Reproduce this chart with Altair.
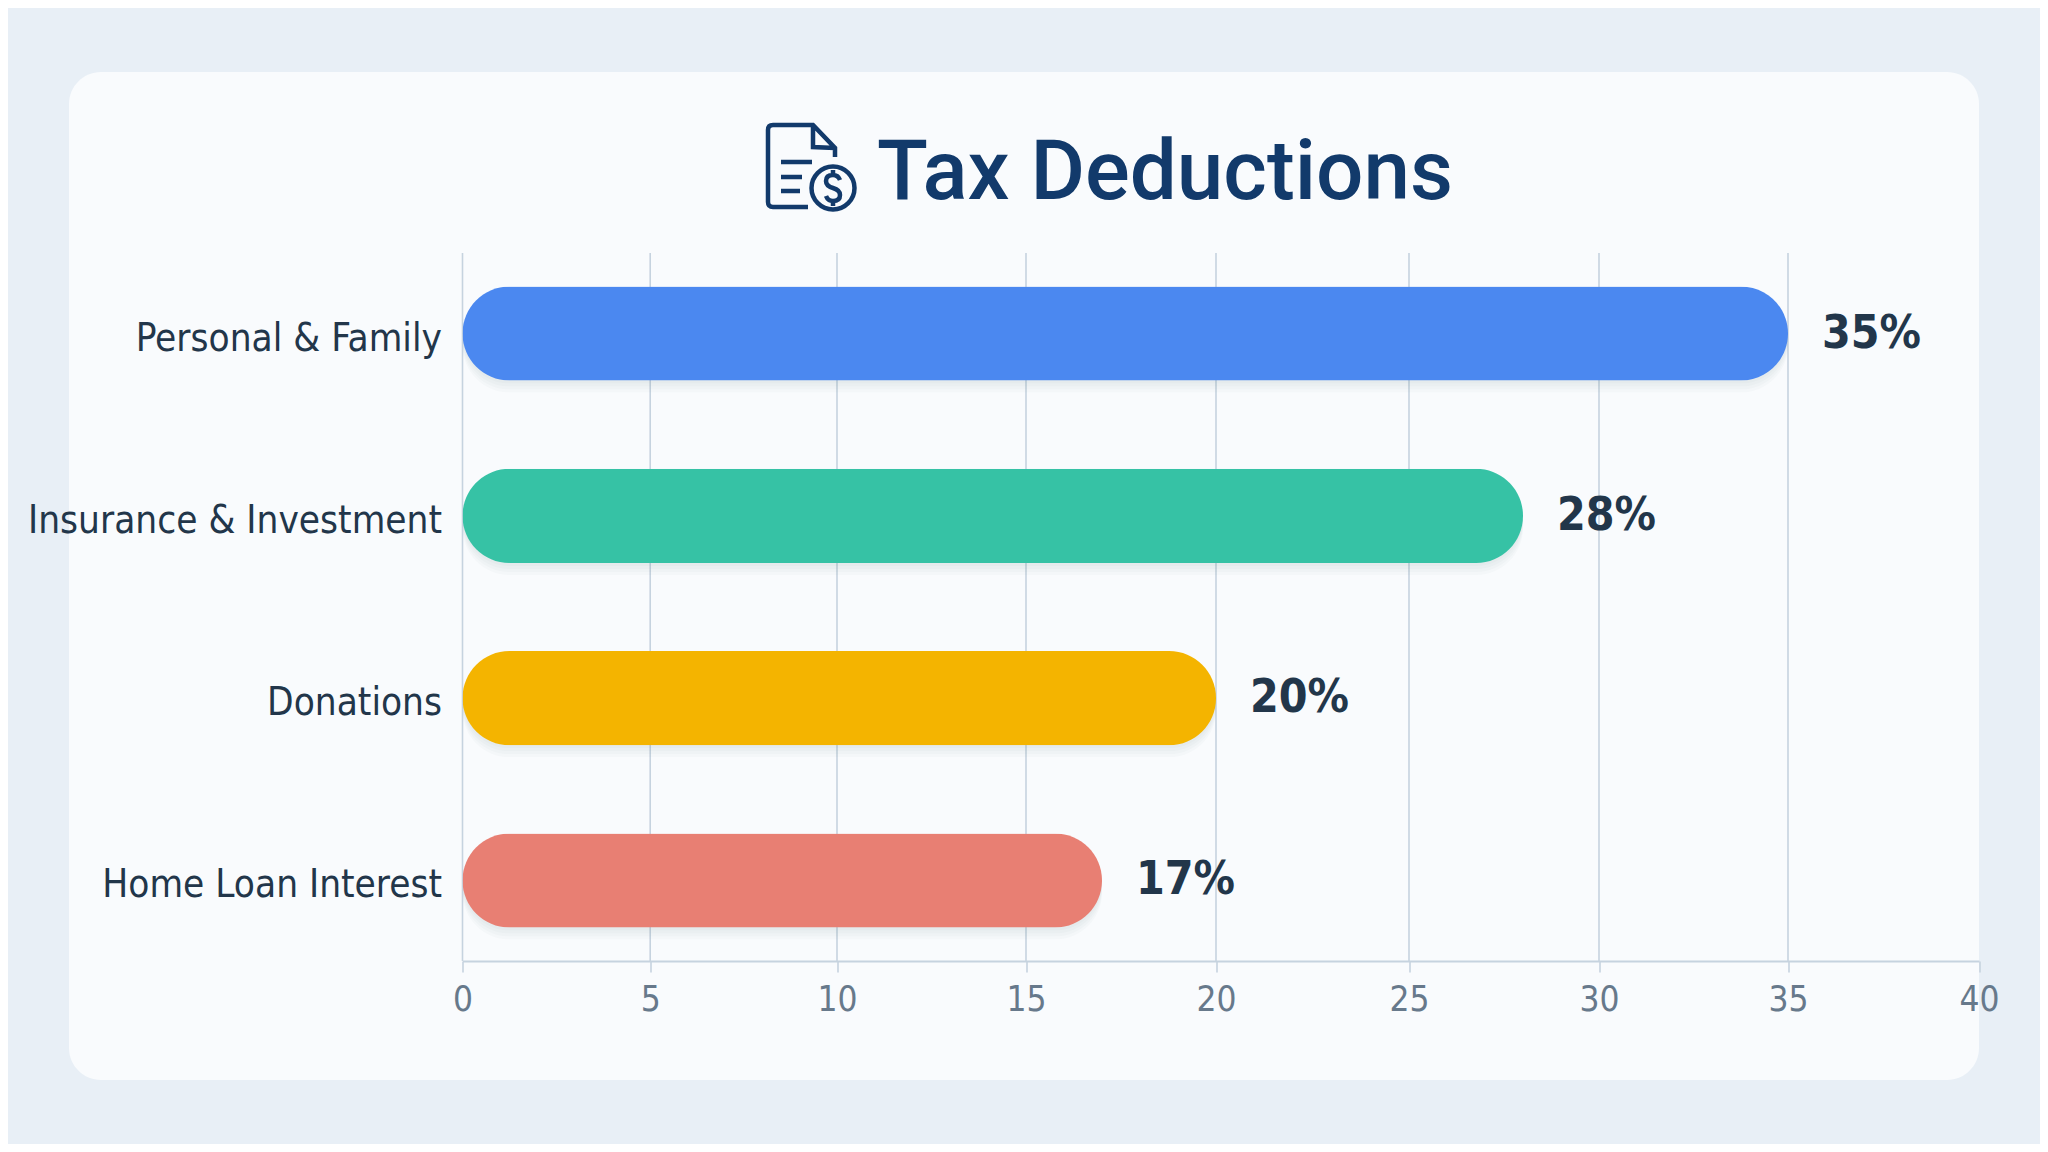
import altair as alt
import pandas as pd

categories = ["Personal & Family", "Insurance & Investment", "Donations", "Home Loan Interest"]
values = [35, 28, 20, 17]
labels = ["35%", "28%", "20%", "17%"]
colors = ["#4b88f0", "#36c2a5", "#f4b400", "#e87f73"]
ticks = [0, 5, 10, 15, 20, 25, 30, 35, 40]
grid_ticks = [0, 5, 10, 15, 20, 25, 30, 35]
tick_offsets = [0, 187.7, 374.5, 563.5, 753.5, 946.5, 1136.5, 1325.5, 1516.5]

FONT = "DejaVu Sans Condensed"
W, H = 1516.5, 708
PL, PT = 454.5, 245
GRID = "#c6d3df"

df = pd.DataFrame({"cat": categories, "val": values, "label": labels})
ticks_df = pd.DataFrame({"t": grid_ticks})
one = alt.Data(values=[{"a": 1}])

x_scale = alt.Scale(domain=ticks, range=tick_offsets)
y_scale = alt.Scale(domain=categories, paddingInner=0.484, paddingOuter=0.184)
color_scale = alt.Scale(domain=categories, range=colors)

x_axis = alt.Axis(values=ticks, grid=False, title=None, tickSize=11, tickColor=GRID, tickWidth=1.6,
                  domainColor=GRID, domainWidth=2, labelFont=FONT, labelFontSize=35, labelColor="#67798b",
                  labelPadding=10, labelFlush=False, labelOverlap=False, format="d", zindex=1)
y_axis = alt.Axis(title=None, ticks=False, domain=False, grid=False, labelFont=FONT, labelFontSize=38.4,
                  labelColor="#22364a", labelPadding=21, labelLimit=500, labelOffset=5, zindex=1)

X = alt.X("val:Q", scale=x_scale, axis=x_axis)
Y = alt.Y("cat:N", scale=y_scale, sort=categories, axis=y_axis)

# white card behind the plot (pixel offsets relative to the plot origin)
card = alt.Chart(one).mark_rect(fill="#f9fbfd", cornerRadius=32).encode(
    x=alt.value(69 - 462.5), x2=alt.value(W), y=alt.value(72 - 253), y2=alt.value(1080 - 253)
)

grid = alt.Chart(ticks_df).mark_rule(color=GRID, strokeWidth=1.6).encode(
    x=alt.X("t:Q", scale=x_scale, axis=x_axis)
)

shadows = [
    alt.Chart(df).mark_bar(cornerRadius=47, color="#50708f", opacity=0.03, yOffset=o).encode(x=X, y=Y)
    for o in (3, 6, 9, 12)
]

bars = alt.Chart(df).mark_bar(cornerRadius=47).encode(
    x=X, y=Y, color=alt.Color("cat:N", scale=color_scale, legend=None),
)

text = alt.Chart(df).mark_text(align="left", baseline="middle", dx=34, font=FONT, fontSize=46,
                               fontWeight="bold", color="#22364a").encode(x=X, y=Y, text="label:N")

# title icon: document with a dollar coin, as one stroked path
CX, CY, K = 811.0, 167.0, 50.0
def px(x, y):
    return f"{(x - CX) / K:.4f} {(y - CY) / K:.4f}"
r = 21.5 / K
icon_path = " ".join([
    f"M{px(808, 207)} L{px(773, 207)} Q{px(768, 207)} {px(768, 202)} L{px(768, 130)} Q{px(768, 125)} {px(773, 125)} L{px(813, 125)} L{px(835, 148)} L{px(835, 157)}",
    f"M{px(813, 125)} L{px(813, 147)} L{px(835, 148)}",
    f"M{px(781, 162)} L{px(812, 162)}",
    f"M{px(781, 177)} L{px(802, 177)}",
    f"M{px(781, 191)} L{px(800, 191)}",
    f"M{px(811.5, 188)} A{r:.4f} {r:.4f} 0 1 0 {px(854.5, 188)} A{r:.4f} {r:.4f} 0 1 0 {px(811.5, 188)}",
    f"M{px(840, 180)} Q{px(838, 175)} {px(833, 175)} Q{px(826, 175)} {px(826, 181)} Q{px(826, 186)} {px(833, 188)} Q{px(840, 190)} {px(840, 195)} Q{px(840, 201)} {px(833, 201)} Q{px(828, 201)} {px(826, 196)}",
    f"M{px(833, 170)} L{px(833, 175)} M{px(833, 201)} L{px(833, 206)}",
])
icon = alt.Chart(one).mark_point(shape=icon_path, filled=False, stroke="#123a6b", strokeWidth=4.5,
                                 size=(2 * K) ** 2, opacity=1).encode(
    x=alt.value(CX - 462.5), y=alt.value(CY - 253)
)

title = alt.Chart(one).mark_text(text="Tax Deductions", font="Roboto", fontSize=83.6, fontWeight=500, color="#123a6b",
                                 align="left", baseline="alphabetic").encode(
    x=alt.value(877 - 462.5), y=alt.value(199 - 253)
)

chart = alt.layer(card, grid, *shadows, bars, text, icon, title).properties(
    width=W, height=H,
    padding={"left": PL, "top": PT, "right": 61, "bottom": 183},
    autosize=alt.AutoSizeParams(type="none", contains="content"),
    background="#e8eff6",
).configure_view(stroke=None)

chart.save("out.html", embed_options={"renderer": "svg", "actions": False})
